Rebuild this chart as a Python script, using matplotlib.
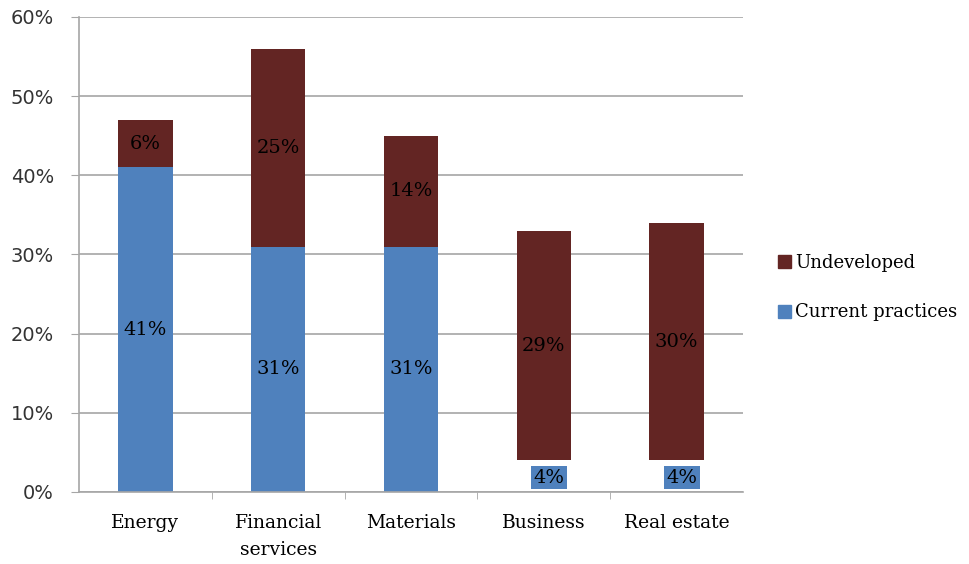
import matplotlib.pyplot as plt
import numpy as np

categories = ["Energy", "Financial\nservices", "Materials", "Business", "Real estate"]
current = [41, 31, 31, 4, 4]
undeveloped = [6, 25, 14, 29, 30]

blue = "#4F81BD"
maroon = "#632523"

fig = plt.figure(figsize=(9.7, 5.64), dpi=100)
ax = fig.add_axes([0.0814, 0.1277, 0.6845, 0.8423])

x = np.arange(len(categories))
w = 0.41

cur = np.array(current)
und = np.array(undeveloped)
small = cur < 5

# small segments are shown only through their boxed label
ax.bar(x[~small], cur[~small], w, color=blue, zorder=2)
ax.bar(x, und, w, bottom=cur, color=maroon, zorder=2)

for i in range(len(x)):
    if small[i]:
        ax.text(x[i] + 0.04, cur[i] / 2 - 0.2, f"{cur[i]}%", ha="center", va="center",
                fontsize=14, family="DejaVu Serif", zorder=3,
                bbox=dict(boxstyle="square,pad=0.12", fc=blue, ec="none"))
    else:
        ax.text(x[i], cur[i] / 2, f"{cur[i]}%", ha="center", va="center",
                fontsize=14, family="DejaVu Serif", zorder=3)
    ax.text(x[i], cur[i] + und[i] / 2, f"{und[i]}%", ha="center", va="center",
            fontsize=14, family="DejaVu Serif", zorder=3)

ax.set_xlim(-0.5, len(x) - 0.5)
ax.set_ylim(0, 60)
ax.set_yticks(range(0, 61, 10))
ax.set_yticklabels([f"{v}%" for v in range(0, 61, 10)], fontsize=14, color="#333333")
ax.set_xticks(x)
ax.set_xticklabels(categories, fontsize=13.5, family="DejaVu Serif", va="top",
                   linespacing=1.6)
ax.set_xticks(np.arange(0.5, len(x) - 1, 1), minor=True)
ax.tick_params(axis="x", which="major", length=0, pad=16)
ax.tick_params(axis="x", which="minor", length=5, color="#A6A6A6")
ax.tick_params(axis="y", length=6, color="#A6A6A6", pad=12)

ax.yaxis.grid(True, color="#A6A6A6", lw=1.2, zorder=0)
ax.set_axisbelow(True)
for s in ["top", "right"]:
    ax.spines[s].set_visible(False)
for s in ["left", "bottom"]:
    ax.spines[s].set_color("#A6A6A6")
    ax.spines[s].set_linewidth(1.2)

handles = [plt.Rectangle((0, 0), 1, 1, color=maroon), plt.Rectangle((0, 0), 1, 1, color=blue)]
fig.legend(handles, ["Undeveloped", "Current practices"], loc="center left",
           bbox_to_anchor=(0.785, 0.49), frameon=False, handlelength=0.75, handleheight=0.75,
           handletextpad=0.2, labelspacing=1.75, prop={"family": "DejaVu Serif", "size": 13})

fig.savefig("out.png", dpi=100)
